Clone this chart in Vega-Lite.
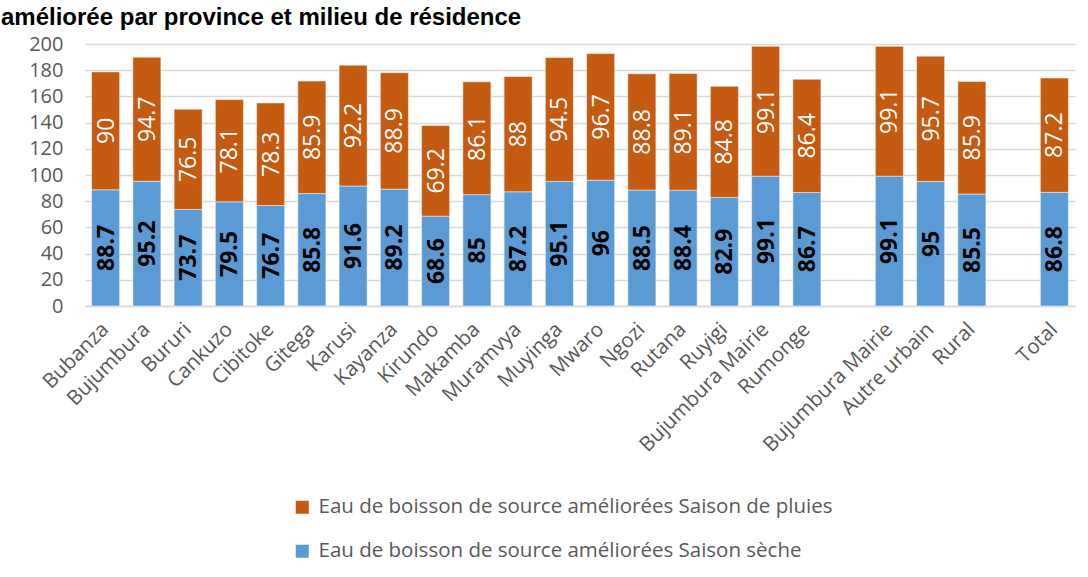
{
  "$schema": "https://vega.github.io/schema/vega-lite/v6.json",
  "width": 990,
  "height": 262,
  "autosize": {"type": "none"},
  "padding": {"left": 85, "top": 44, "right": 13, "bottom": 271},
  "background": "white",
  "title": {
    "text": "améliorée par province et milieu de résidence",
    "anchor": "start",
    "frame": "group",
    "font": "Liberation Sans",
    "fontSize": 24,
    "fontWeight": "bold",
    "color": "#000000",
    "offset": 0,
    "dx": -84,
    "dy": -4
  },
  "data": {
    "values": [
      {"k": "Bubanza", "serie": "Eau de boisson de source améliorées Saison sèche", "v": 88.7},
      {"k": "Bubanza", "serie": "Eau de boisson de source améliorées Saison de pluies", "v": 90},
      {"k": "Bujumbura", "serie": "Eau de boisson de source améliorées Saison sèche", "v": 95.2},
      {"k": "Bujumbura", "serie": "Eau de boisson de source améliorées Saison de pluies", "v": 94.7},
      {"k": "Bururi", "serie": "Eau de boisson de source améliorées Saison sèche", "v": 73.7},
      {"k": "Bururi", "serie": "Eau de boisson de source améliorées Saison de pluies", "v": 76.5},
      {"k": "Cankuzo", "serie": "Eau de boisson de source améliorées Saison sèche", "v": 79.5},
      {"k": "Cankuzo", "serie": "Eau de boisson de source améliorées Saison de pluies", "v": 78.1},
      {"k": "Cibitoke", "serie": "Eau de boisson de source améliorées Saison sèche", "v": 76.7},
      {"k": "Cibitoke", "serie": "Eau de boisson de source améliorées Saison de pluies", "v": 78.3},
      {"k": "Gitega", "serie": "Eau de boisson de source améliorées Saison sèche", "v": 85.8},
      {"k": "Gitega", "serie": "Eau de boisson de source améliorées Saison de pluies", "v": 85.9},
      {"k": "Karusi", "serie": "Eau de boisson de source améliorées Saison sèche", "v": 91.6},
      {"k": "Karusi", "serie": "Eau de boisson de source améliorées Saison de pluies", "v": 92.2},
      {"k": "Kayanza", "serie": "Eau de boisson de source améliorées Saison sèche", "v": 89.2},
      {"k": "Kayanza", "serie": "Eau de boisson de source améliorées Saison de pluies", "v": 88.9},
      {"k": "Kirundo", "serie": "Eau de boisson de source améliorées Saison sèche", "v": 68.6},
      {"k": "Kirundo", "serie": "Eau de boisson de source améliorées Saison de pluies", "v": 69.2},
      {"k": "Makamba", "serie": "Eau de boisson de source améliorées Saison sèche", "v": 85},
      {"k": "Makamba", "serie": "Eau de boisson de source améliorées Saison de pluies", "v": 86.1},
      {"k": "Muramvya", "serie": "Eau de boisson de source améliorées Saison sèche", "v": 87.2},
      {"k": "Muramvya", "serie": "Eau de boisson de source améliorées Saison de pluies", "v": 88},
      {"k": "Muyinga", "serie": "Eau de boisson de source améliorées Saison sèche", "v": 95.1},
      {"k": "Muyinga", "serie": "Eau de boisson de source améliorées Saison de pluies", "v": 94.5},
      {"k": "Mwaro", "serie": "Eau de boisson de source améliorées Saison sèche", "v": 96},
      {"k": "Mwaro", "serie": "Eau de boisson de source améliorées Saison de pluies", "v": 96.7},
      {"k": "Ngozi", "serie": "Eau de boisson de source améliorées Saison sèche", "v": 88.5},
      {"k": "Ngozi", "serie": "Eau de boisson de source améliorées Saison de pluies", "v": 88.8},
      {"k": "Rutana", "serie": "Eau de boisson de source améliorées Saison sèche", "v": 88.4},
      {"k": "Rutana", "serie": "Eau de boisson de source améliorées Saison de pluies", "v": 89.1},
      {"k": "Ruyigi", "serie": "Eau de boisson de source améliorées Saison sèche", "v": 82.9},
      {"k": "Ruyigi", "serie": "Eau de boisson de source améliorées Saison de pluies", "v": 84.8},
      {"k": "Bujumbura Mairie", "serie": "Eau de boisson de source améliorées Saison sèche", "v": 99.1},
      {"k": "Bujumbura Mairie", "serie": "Eau de boisson de source améliorées Saison de pluies", "v": 99.1},
      {"k": "Rumonge", "serie": "Eau de boisson de source améliorées Saison sèche", "v": 86.7},
      {"k": "Rumonge", "serie": "Eau de boisson de source améliorées Saison de pluies", "v": 86.4},
      {"k": "Bujumbura Mairie#2", "serie": "Eau de boisson de source améliorées Saison sèche", "v": 99.1},
      {"k": "Bujumbura Mairie#2", "serie": "Eau de boisson de source améliorées Saison de pluies", "v": 99.1},
      {"k": "Autre urbain", "serie": "Eau de boisson de source améliorées Saison sèche", "v": 95},
      {"k": "Autre urbain", "serie": "Eau de boisson de source améliorées Saison de pluies", "v": 95.7},
      {"k": "Rural", "serie": "Eau de boisson de source améliorées Saison sèche", "v": 85.5},
      {"k": "Rural", "serie": "Eau de boisson de source améliorées Saison de pluies", "v": 85.9},
      {"k": "Total", "serie": "Eau de boisson de source améliorées Saison sèche", "v": 86.8},
      {"k": "Total", "serie": "Eau de boisson de source améliorées Saison de pluies", "v": 87.2}
    ]
  },
  "transform": [
    {"calculate": "indexof(datum.serie, 'sèche') >= 0 ? 0 : 1", "as": "ord"},
    {"stack": "v", "groupby": ["k"], "sort": [{"field": "ord", "order": "ascending"}], "as": ["v0", "v1"]},
    {"calculate": "(datum.v0 + datum.v1) / 2", "as": "mid"}
  ],
  "encoding": {
    "x": {
      "field": "k",
      "type": "nominal",
      "sort": null,
      "scale": {
        "domain": ["Bubanza", "Bujumbura", "Bururi", "Cankuzo", "Cibitoke", "Gitega", "Karusi", "Kayanza", "Kirundo", "Makamba", "Muramvya", "Muyinga", "Mwaro", "Ngozi", "Rutana", "Ruyigi", "Bujumbura Mairie", "Rumonge", "gap1", "Bujumbura Mairie#2", "Autre urbain", "Rural", "gap2", "Total"],
        "paddingInner": 0.32,
        "paddingOuter": 0.16
      },
      "axis": {
        "title": null,
        "labelAngle": -45,
        "labelAlign": "right",
        "labelBaseline": "middle",
        "labelFont": "Open Sans",
        "labelFontSize": 20.5,
        "labelColor": "#595959",
        "labelPadding": 20,
        "labelOverlap": false,
        "labelLimit": 0,
        "ticks": false,
        "domainColor": "#D9D9D9",
        "domainWidth": 1.5,
        "labelExpr": "indexof(datum.label, 'gap') == 0 ? '' : replace(datum.label, '#2', '')"
      }
    },
    "y": {
      "type": "quantitative",
      "scale": {"domain": [0, 200], "nice": false},
      "axis": {
        "title": null,
        "values": [0, 20, 40, 60, 80, 100, 120, 140, 160, 180, 200],
        "labelOverlap": false,
        "domain": false,
        "ticks": false,
        "labelFont": "Open Sans",
        "labelFontSize": 20,
        "labelColor": "#595959",
        "labelPadding": 22,
        "gridColor": "#D9D9D9",
        "gridWidth": 1.5
      }
    }
  },
  "layer": [
    {
      "mark": {"type": "bar", "stroke": "white", "strokeWidth": 0.5},
      "encoding": {
        "y": {
          "field": "v0",
          "type": "quantitative",
          "scale": {"domain": [0, 200], "nice": false},
          "axis": {
            "title": null,
            "values": [0, 20, 40, 60, 80, 100, 120, 140, 160, 180, 200],
            "labelOverlap": false,
            "domain": false,
            "ticks": false,
            "labelFont": "Open Sans",
            "labelFontSize": 20,
            "labelColor": "#595959",
            "labelPadding": 22,
            "gridColor": "#D9D9D9",
            "gridWidth": 1.5
          }
        },
        "y2": {"field": "v1"},
        "color": {
          "field": "serie",
          "type": "nominal",
          "scale": {
            "domain": ["Eau de boisson de source améliorées Saison de pluies", "Eau de boisson de source améliorées Saison sèche"],
            "range": ["#C55A11", "#5B9BD5"]
          },
          "legend": {
            "title": null,
            "orient": "none",
            "legendX": 207,
            "legendY": 453,
            "direction": "vertical",
            "symbolType": "square",
            "symbolSize": 170,
            "symbolStrokeWidth": 0,
            "labelFont": "Open Sans",
            "labelFontSize": 20.5,
            "labelColor": "#595959",
            "labelLimit": 0,
            "rowPadding": 23,
            "labelOffset": 6
          }
        }
      }
    },
    {
      "transform": [{"filter": "datum.ord == 0"}],
      "mark": {"type": "text", "angle": 270, "font": "Open Sans", "fontWeight": "bold", "fontSize": 23, "color": "#000000", "baseline": "middle", "align": "center", "dy": 1},
      "encoding": {
        "y": {
          "field": "mid",
          "type": "quantitative",
          "scale": {"domain": [0, 200], "nice": false},
          "axis": {
            "title": null,
            "values": [0, 20, 40, 60, 80, 100, 120, 140, 160, 180, 200],
            "labelOverlap": false,
            "domain": false,
            "ticks": false,
            "labelFont": "Open Sans",
            "labelFontSize": 20,
            "labelColor": "#595959",
            "labelPadding": 22,
            "gridColor": "#D9D9D9",
            "gridWidth": 1.5
          }
        },
        "text": {"field": "v", "type": "quantitative", "format": ""}
      }
    },
    {
      "transform": [{"filter": "datum.ord == 1"}],
      "mark": {"type": "text", "angle": 270, "font": "Open Sans", "fontSize": 23, "color": "#FFFFFF", "baseline": "middle", "align": "center", "dy": 1},
      "encoding": {
        "y": {
          "field": "mid",
          "type": "quantitative",
          "scale": {"domain": [0, 200], "nice": false},
          "axis": {
            "title": null,
            "values": [0, 20, 40, 60, 80, 100, 120, 140, 160, 180, 200],
            "labelOverlap": false,
            "domain": false,
            "ticks": false,
            "labelFont": "Open Sans",
            "labelFontSize": 20,
            "labelColor": "#595959",
            "labelPadding": 22,
            "gridColor": "#D9D9D9",
            "gridWidth": 1.5
          }
        },
        "text": {"field": "v", "type": "quantitative", "format": ""}
      }
    }
  ],
  "config": {"view": {"stroke": null}}
}
